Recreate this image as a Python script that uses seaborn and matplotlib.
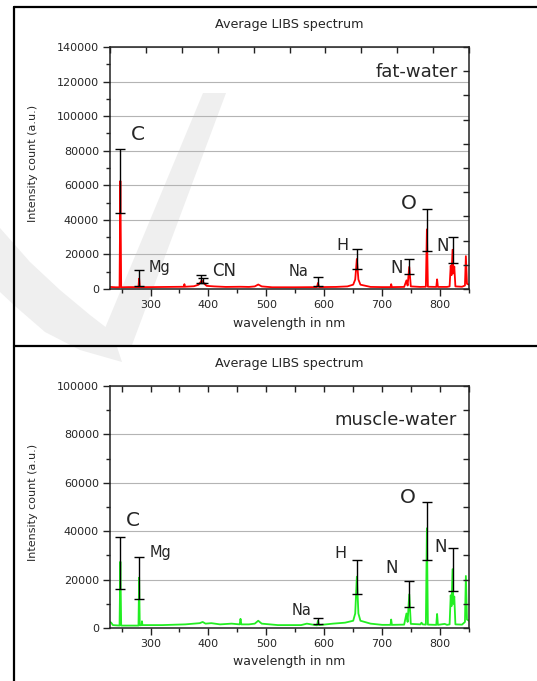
import matplotlib
matplotlib.use("Agg")
import numpy as np
import pandas as pd
import matplotlib.pyplot as plt
import seaborn as sns
from matplotlib.lines import Line2D
from matplotlib.patches import Polygon
from matplotlib.ticker import MultipleLocator

# ---------------- data ----------------
# fat-water average spectrum (wavelength nm, intensity a.u.)
fat_wl = [230, 240, 246.5, 247.9, 249.3, 262, 279.2, 280.3, 281.4, 300, 330,
          357.5, 358.5, 359.5, 375, 383, 386.5, 388.3, 390, 393, 397, 410, 430,
          455, 470, 480, 486, 492, 510, 550, 587.5, 589.2, 591, 620, 640, 650,
          653.5, 656.3, 659, 662.5, 680, 700, 714.5, 715.6, 716.8, 738, 742,
          744, 746.8, 749.5, 766, 775.5, 777.3, 779, 793.5, 794.9, 796.3, 812,
          816.5, 818.4, 819.8, 821.6, 823.1, 824.6, 826.5, 838, 843, 844.6,
          846.5, 850]
fat_int = [1200, 1000, 1000, 62500, 1000, 1100, 1100, 6000, 1100, 1100, 1200,
           1300, 2800, 1300, 1600, 2500, 4000, 5000, 4200, 3000, 1800, 1500, 1200,
           1300, 1200, 1500, 2600, 1500, 1000, 1000, 1100, 3500, 1100, 1200, 1500, 2500,
           5500, 17400, 5500, 2500, 1200, 1100, 1100, 2800, 1100, 1200, 5000,
           2000, 12800, 1500, 1200, 1300, 34500, 1300, 1200, 5600, 1200, 1200,
           1500, 13500, 8000, 22700, 9000, 13000, 1500, 1300, 2000, 19000,
           3000, 2500]

# muscle-water average spectrum
mus_wl = [230, 232, 235, 246.5, 247.9, 249.3, 265, 279.2, 280.3, 281.4, 284.5,
          285.2, 286, 320, 360, 385, 390, 395, 405, 420, 440, 454, 455.4, 456.8,
          470, 480, 486, 492, 520, 560, 570, 587.5, 589.2, 591, 615, 636, 650,
          653.5, 656.3, 659, 662.5, 680, 700, 714.5, 715.6, 716.8, 738, 742,
          744, 746.8, 749.5, 766, 768, 770, 775.5, 777.3, 779, 793.5, 794.9,
          796.3, 808, 812, 816.5, 818.4, 819.8, 821.6, 823.1, 824.6, 826.5,
          838, 843, 844.6, 846.5, 850]
mus_int = [2500, 2200, 1200, 1000, 27400, 1000, 1000, 1000, 20800, 1100, 1200,
           2800, 1200, 1200, 1500, 2000, 2500, 1800, 2000, 1500, 1800, 1500, 3800, 1500,
           1500, 1800, 3000, 1800, 1200, 1200, 1800, 1100, 3000, 1200, 1800, 2200, 3000,
           6000, 21200, 6000, 3000, 1800, 1300, 1300, 3500, 1300, 1400, 6000,
           2500, 13900, 1700, 1500, 2200, 1500, 1400, 41200, 1400, 1300, 5800,
           1300, 1700, 1300, 1500, 13500, 9000, 24300, 10000, 13000, 1500,
           1400, 2500, 21500, 3500, 3000]

# error bars: line wavelength, mean, standard deviation
fat_err_wl = [247.9, 280.3, 386.5, 391.0, 589.0, 656.3, 746.8, 777.3, 821.6]
fat_err_mean = [62500, 6350, 5750, 5050, 4400, 17250, 12850, 34100, 22700]
fat_err_sd = [18500, 4650, 2250, 1550, 2700, 5850, 4350, 12300, 7500]

mus_err_wl = [247.9, 280.3, 589.0, 656.3, 746.8, 777.3, 821.6]
mus_err_mean = [26800, 20700, 2800, 21000, 13900, 40150, 24300]
mus_err_sd = [10700, 8800, 1200, 7100, 5400, 12050, 8900]

# element labels
fat_labels = ["C", "Mg", "CN", "Na", "H", "N", "O", "N"]
mus_labels = ["C", "Mg", "Na", "H", "N", "O", "N"]

# ---------------- style ----------------
sns.set_style("ticks")
plt.rcParams['font.family'] = ['DejaVu Sans']

W, H = 537, 681
fig = plt.figure(figsize=(W / 100, H / 100), dpi=100)


def fx(px):
    return px / W


def fy(py):
    return 1 - py / H


# faint background swoosh (decoration)
wm = '#efefef'
slash = Polygon([(fx(203), fy(93)), (fx(226), fy(93)), (fx(132), fy(345)),
                 (fx(98), fy(345))], closed=True, transform=fig.transFigure,
                facecolor=wm, edgecolor='none', zorder=-2)
curve = Polygon([(fx(0), fy(228)), (fx(30), fy(262)), (fx(60), fy(290)),
                 (fx(90), fy(315)), (fx(112), fy(332)), (fx(122), fy(362)),
                 (fx(80), fy(350)), (fx(45), fy(332)), (fx(15), fy(306)),
                 (fx(0), fy(292))], closed=True, transform=fig.transFigure,
                facecolor=wm, edgecolor='none', zorder=-2)
fig.add_artist(slash)
fig.add_artist(curve)

# panel frames
for xs, ys in [([fx(14.3), fx(14.3)], [fy(6.5), 0]),
               ([fx(14.3), 1], [fy(6.5), fy(6.5)]),
               ([fx(14.3), 1], [fy(345.7), fy(345.7)])]:
    fig.add_artist(Line2D(xs, ys, transform=fig.transFigure, color='black',
                          lw=1.6, zorder=5))


def make_panel(top_px, bot_px, wl, inten, ewl, emean, esd, ymax, color,
               labels, label_pos, label_sizes, tag, tag_pos, top_ticks_frac):
    pos = [fx(110), fy(bot_px), (469 - 110) / W, (bot_px - top_px) / H]
    ax = fig.add_axes(pos)
    ax.set_facecolor('none')
    df = pd.DataFrame({'wavelength': wl, 'intensity': inten})
    sns.lineplot(data=df, x='wavelength', y='intensity', ax=ax, color=color,
                 lw=1.3, estimator=None, zorder=2)
    ax.errorbar(ewl, emean, yerr=esd, fmt='none', ecolor='black',
                elinewidth=1.0, capsize=3.3, capthick=1.0, zorder=3)
    ax.set_xlim(230, 850)
    ax.set_ylim(0, ymax)
    ax.xaxis.set_major_locator(MultipleLocator(100))
    ax.xaxis.set_minor_locator(MultipleLocator(50))
    ax.yaxis.set_major_locator(MultipleLocator(20000))
    ax.yaxis.set_minor_locator(MultipleLocator(10000))
    ax.tick_params(which='both', direction='out', top=False, right=False,
                   labelsize=8, width=1.0, color='#222222')
    ax.tick_params(which='major', length=5, pad=3)
    ax.tick_params(which='minor', length=3)
    ax.grid(axis='y', which='major', color='#b4b4b4', lw=0.8)
    ax.set_axisbelow(True)
    for s in ax.spines.values():
        s.set_visible(True)
        s.set_color('#222222')
        s.set_linewidth(1.1)
    ax.set_title('Average LIBS spectrum', fontsize=9.2, pad=13.5)
    ax.set_xlabel('wavelength in nm', fontsize=9)
    ax.xaxis.set_label_coords(0.5, -34 / (bot_px - top_px))
    ax.xaxis.label.set_va('center')
    ax.set_ylabel('Intensity count (a.u.)', fontsize=8)
    ax.yaxis.set_label_coords(-77 / 359, 0.52)
    ax.yaxis.label.set_va('center')
    for lab, (lx, ly), fs in zip(labels, label_pos, label_sizes):
        ax.text(lx, ly, lab, fontsize=fs, ha='center', va='center', zorder=4)
    ax.text(tag_pos[0], tag_pos[1], tag, fontsize=13, ha='right', va='center',
            zorder=4)

    # mirrored top / right ticks (inward)
    ov = fig.add_axes(pos)
    ov.set_facecolor('none')
    for s in ov.spines.values():
        s.set_visible(False)
    if top_ticks_frac:
        ov.set_xlim(0, 1)
        ov.xaxis.set_major_locator(MultipleLocator(0.1))
    else:
        ov.set_xlim(230, 850)
        ov.xaxis.set_major_locator(MultipleLocator(50))
    ov.set_ylim(0, 1)
    ov.yaxis.set_major_locator(MultipleLocator(0.1))
    ov.tick_params(bottom=False, left=False, top=True, right=True,
                   labelbottom=False, labelleft=False, labeltop=False,
                   labelright=False, direction='in', length=4, width=1.0,
                   color='#222222')
    ov.grid(False)
    return ax


fat_label_pos = [(277.8, 89100), (315, 12300), (427.4, 10400), (555.7, 10000),
                 (631.6, 24900), (725, 12300), (746.8, 49200), (804.2, 24900)]
fat_label_size = [14.5, 10.5, 12, 10.5, 11.5, 12, 14.5, 12]
mus_label_pos = [(269.7, 44600), (318, 31400), (561.6, 7400), (627.2, 30600),
                 (717, 24800), (744.7, 54100), (801.7, 33500)]
mus_label_size = [14.5, 10.5, 10.5, 11.5, 12, 14.5, 12]

make_panel(47, 289, fat_wl, fat_int, fat_err_wl, fat_err_mean, fat_err_sd,
           140000, '#ff0000', fat_labels, fat_label_pos, fat_label_size,
           'fat-water', (831, 125700), True)
make_panel(386, 628, mus_wl, mus_int, mus_err_wl, mus_err_mean, mus_err_sd,
           100000, '#22ee22', mus_labels, mus_label_pos, mus_label_size,
           'muscle-water', (829.3, 86000), False)

fig.savefig('out.png', dpi=100)
